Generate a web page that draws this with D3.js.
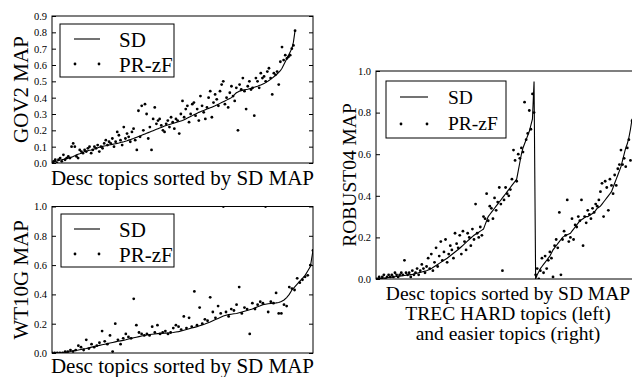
<!DOCTYPE html>
<html>
<head>
<meta charset="utf-8">
<script src="https://cdn.jsdelivr.net/npm/d3@7"></script>
<style>
  body { margin: 0; background: #fff; }
  svg { display: block; font-family: "Liberation Serif", "Times New Roman", serif; }
</style>
</head>
<body>
<div id="chart"></div>
<script>
// GOV2: 150 desc topics, sorted by SD MAP
const gov2SD = [
  0.00,0.005,0.01,0.012,0.015,0.018,0.02,0.022,0.025,0.028,
  0.03,0.033,0.036,0.04,0.045,0.05,0.053,0.056,0.06,0.065,
  0.07,0.072,0.075,0.078,0.08,0.083,0.086,0.09,0.093,0.097,
  0.10,0.102,0.104,0.106,0.108,0.11,0.112,0.114,0.116,0.118,
  0.12,0.122,0.125,0.128,0.13,0.133,0.136,0.14,0.143,0.147,
  0.15,0.154,0.158,0.162,0.166,0.17,0.174,0.178,0.182,0.186,
  0.19,0.194,0.198,0.202,0.206,0.21,0.214,0.218,0.222,0.226,
  0.23,0.233,0.236,0.239,0.242,0.245,0.248,0.251,0.254,0.257,
  0.26,0.265,0.27,0.275,0.28,0.285,0.29,0.295,0.30,0.305,
  0.31,0.314,0.318,0.322,0.326,0.33,0.334,0.338,0.342,0.346,
  0.35,0.355,0.36,0.365,0.37,0.375,0.38,0.385,0.39,0.395,
  0.40,0.41,0.42,0.43,0.435,0.44,0.443,0.446,0.448,0.45,
  0.452,0.455,0.458,0.461,0.464,0.467,0.47,0.474,0.478,0.482,
  0.486,0.492,0.498,0.505,0.512,0.52,0.528,0.536,0.545,0.555,
  0.565,0.58,0.60,0.62,0.64,0.66,0.68,0.70,0.74,0.81
];
const gov2PR = [
  0.00,0.01,0.02,0.00,0.02,0.03,0.01,0.05,0.02,0.03,
  0.04,0.03,0.10,0.12,0.10,0.04,0.03,0.08,0.07,0.06,
  0.08,0.07,0.09,0.10,0.06,0.08,0.10,0.09,0.11,0.07,
  0.10,0.09,0.12,0.14,0.11,0.13,0.12,0.15,0.10,0.13,
  0.19,0.17,0.14,0.11,0.22,0.15,0.18,0.16,0.13,0.19,
  0.21,0.14,0.08,0.32,0.16,0.35,0.20,0.36,0.30,0.15,
  0.22,0.08,0.27,0.34,0.24,0.26,0.27,0.23,0.20,0.19,
  0.24,0.26,0.22,0.28,0.25,0.21,0.27,0.26,0.18,0.30,
  0.38,0.28,0.33,0.35,0.25,0.30,0.36,0.37,0.29,0.33,
  0.26,0.41,0.35,0.31,0.27,0.34,0.40,0.44,0.28,0.37,
  0.42,0.39,0.35,0.44,0.48,0.50,0.36,0.40,0.34,0.43,
  0.47,0.41,0.38,0.46,0.20,0.48,0.45,0.52,0.44,0.33,
  0.47,0.50,0.45,0.46,0.29,0.52,0.50,0.46,0.55,0.52,
  0.53,0.50,0.56,0.58,0.52,0.42,0.55,0.54,0.56,0.48,
  0.62,0.71,0.63,0.66,0.64,0.65,0.66,0.70,0.72,0.81
];

// WT10G: 100 desc topics
const wt10gSD = [
  0.0,0.0,0.0,0.0,0.001,0.003,0.006,0.01,0.015,0.018,
  0.02,0.024,0.028,0.031,0.035,0.04,0.044,0.048,0.052,0.056,
  0.06,0.064,0.068,0.072,0.076,0.08,0.083,0.086,0.09,0.095,
  0.10,0.104,0.108,0.112,0.116,0.12,0.123,0.126,0.128,0.13,
  0.132,0.134,0.135,0.136,0.137,0.138,0.14,0.143,0.146,0.15,
  0.155,0.16,0.165,0.17,0.175,0.18,0.186,0.192,0.198,0.205,
  0.212,0.22,0.228,0.236,0.244,0.252,0.258,0.262,0.265,0.268,
  0.27,0.275,0.28,0.285,0.29,0.295,0.30,0.308,0.315,0.322,
  0.33,0.333,0.336,0.338,0.34,0.342,0.345,0.352,0.362,0.378,
  0.40,0.43,0.45,0.47,0.49,0.51,0.53,0.56,0.59,0.70
];
const wt10gPR = [
  0.0,0.0,0.0,0.0,0.0,0.01,0.01,0.02,0.01,0.02,
  0.05,0.04,0.02,0.09,0.03,0.06,0.04,0.05,0.07,0.15,
  0.08,0.06,0.12,0.01,0.20,0.09,0.06,0.10,0.13,0.11,
  0.10,0.37,0.19,0.14,0.13,0.12,0.13,0.12,0.18,0.14,
  0.19,0.13,0.14,0.15,0.13,0.14,0.17,0.19,0.18,0.16,
  0.25,0.17,0.24,0.18,0.42,0.19,0.31,0.20,0.23,0.22,
  0.38,0.28,0.24,0.32,0.27,1.0,0.28,0.25,0.30,0.29,
  0.33,0.45,0.27,0.31,0.30,0.13,0.34,0.30,0.33,0.35,
  0.34,1.0,0.28,0.35,0.34,0.41,0.27,0.27,0.33,0.32,
  0.45,0.44,0.43,0.51,0.48,0.50,0.52,0.53,0.60,0.70
];

// ROBUST04: TREC HARD topics (left), then easier topics (right)
const robustHardSD = [
  0.0,0.0,0.001,0.002,0.003,0.004,0.005,0.006,0.007,0.008,
  0.009,0.01,0.011,0.012,0.013,0.014,0.015,0.016,0.017,0.018,
  0.019,0.02,0.021,0.022,0.024,0.026,0.028,0.03,0.032,0.034,
  0.036,0.038,0.04,0.043,0.046,0.05,0.055,0.06,0.065,0.07,
  0.075,0.08,0.085,0.09,0.095,0.10,0.106,0.112,0.118,0.124,
  0.13,0.136,0.142,0.148,0.155,0.162,0.169,0.176,0.183,0.19,
  0.197,0.204,0.21,0.215,0.22,0.225,0.23,0.235,0.24,0.26,
  0.28,0.30,0.31,0.32,0.33,0.34,0.35,0.36,0.37,0.38,
  0.39,0.40,0.41,0.42,0.43,0.44,0.45,0.46,0.47,0.48,
  0.52,0.56,0.60,0.63,0.65,0.67,0.69,0.71,0.74,0.77,
  0.95
];
const robustHardPR = [
  0.0,0.0,0.01,0.0,0.01,0.02,0.0,0.01,0.02,0.01,
  0.02,0.01,0.03,0.02,0.01,0.02,0.03,0.02,0.09,0.03,
  0.02,0.03,0.01,0.04,0.02,0.03,0.05,0.02,0.04,0.07,
  0.05,0.03,0.06,0.10,0.05,0.12,0.04,0.08,0.15,0.06,
  0.11,0.18,0.09,0.13,0.19,0.08,0.12,0.16,0.14,0.10,
  0.22,0.17,0.15,0.21,0.12,0.23,0.18,0.14,0.22,0.20,
  0.16,0.24,0.19,0.36,0.22,0.20,0.25,0.21,0.30,0.29,
  0.41,0.28,0.35,0.34,0.29,0.39,0.33,0.37,0.44,0.36,
  0.04,0.38,0.44,0.41,0.40,0.43,0.48,0.62,0.57,0.47,
  0.60,0.58,0.63,0.61,0.85,0.67,0.70,0.81,0.72,0.89,
  0.80
];
const robustEasySD = [
  0.0,0.02,0.035,0.05,0.06,0.07,0.08,0.09,0.10,0.11,
  0.125,0.14,0.15,0.16,0.17,0.18,0.19,0.20,0.205,0.21,
  0.213,0.216,0.22,0.23,0.24,0.25,0.26,0.27,0.28,0.285,
  0.29,0.295,0.30,0.30,0.305,0.31,0.315,0.32,0.33,0.34,
  0.345,0.35,0.36,0.37,0.38,0.39,0.40,0.41,0.42,0.44,
  0.46,0.48,0.50,0.52,0.54,0.57,0.60,0.63,0.65,0.68,
  0.72,0.77
];
const robustEasyPR = [
  0.02,0.05,0.0,0.04,0.10,0.03,0.11,0.05,0.09,0.13,
  0.10,0.01,0.16,0.19,0.15,0.32,0.02,0.19,0.23,0.21,
  0.38,0.18,0.20,0.29,0.19,0.26,0.25,0.30,0.28,0.38,
  0.16,0.30,0.27,0.33,0.31,0.29,0.34,0.32,0.36,0.35,
  0.38,0.42,0.46,0.30,0.47,0.44,0.33,0.48,0.45,0.41,
  0.50,0.45,0.53,0.55,0.62,0.55,0.58,0.54,0.63,0.67,
  0.57,0.76
];

const xLabel = "Desc topics sorted by SD MAP";
const legendNames = ["SD", "PR-zF"];

const W = 632, H = 377;
const svg = d3.select("#chart").append("svg")
  .attr("width", W)
  .attr("height", H);

function drawPanel(p) {
  const x = d3.scaleLinear().domain(p.xDomain).range([p.left, p.right]);
  const y = d3.scaleLinear().domain([0, p.yMax]).range([p.bottom, p.top]);
  const g = svg.append("g");

  g.append("clipPath").attr("id", "clip-" + p.id)
    .append("rect")
    .attr("x", p.left).attr("y", p.top)
    .attr("width", p.right - p.left).attr("height", p.bottom - p.top);

  const plot = g.append("g").attr("clip-path", `url(#clip-${p.id})`);

  const line = d3.line()
    .x((d, i) => x(i))
    .y(d => y(d));

  plot.append("path")
    .datum(p.sd)
    .attr("fill", "none")
    .attr("stroke", "#000")
    .attr("stroke-width", 1.1)
    .attr("d", line);

  plot.selectAll("circle")
    .data(p.pr)
    .join("circle")
    .attr("cx", (d, i) => x(i))
    .attr("cy", d => y(d))
    .attr("r", 1.4)
    .attr("fill", "#000");

  // frame
  g.append("rect")
    .attr("x", p.left).attr("y", p.top)
    .attr("width", p.right - p.left).attr("height", p.bottom - p.top)
    .attr("fill", "none")
    .attr("stroke", "#000")
    .attr("stroke-width", 1);

  // y ticks, inward on both sides
  const ticks = d3.range(0, p.yMax + 1e-9, p.yStep);
  const left = g.append("g")
    .attr("transform", `translate(${p.left},0)`)
    .call(d3.axisLeft(y).tickValues(ticks).tickFormat(d3.format(".1f"))
      .tickSizeInner(-4).tickSizeOuter(0).tickPadding(5));
  left.select(".domain").remove();
  left.selectAll("text")
    .attr("font-family", "Liberation Serif, Times New Roman, serif")
    .attr("font-size", 10.5)
    .attr("fill", "#000");

  const right = g.append("g")
    .attr("transform", `translate(${p.right},0)`)
    .call(d3.axisRight(y).tickValues(ticks).tickFormat("")
      .tickSizeInner(-4).tickSizeOuter(0));
  right.select(".domain").remove();

  // axis titles
  g.append("text")
    .attr("transform", `translate(${p.yLabelX},${(p.top + p.bottom) / 2}) rotate(-90)`)
    .attr("text-anchor", "middle")
    .attr("font-size", p.fontSize)
    .text(p.yLabel);

  p.xLabels.forEach((t, k) => {
    g.append("text")
      .attr("x", p.xLabelX)
      .attr("y", p.xLabelY + k * 20)
      .attr("text-anchor", "middle")
      .attr("font-size", p.fontSize)
      .text(t);
  });

  // legend
  const L = p.legend;
  const lg = g.append("g");
  lg.append("rect")
    .attr("x", L.x).attr("y", L.y).attr("width", L.w).attr("height", L.h)
    .attr("fill", "#fff").attr("stroke", "#000").attr("stroke-width", 1);
  lg.append("line")
    .attr("x1", L.x1).attr("x2", L.x2).attr("y1", L.lineY).attr("y2", L.lineY)
    .attr("stroke", "#000").attr("stroke-width", 1.1);
  lg.selectAll("circle")
    .data([L.x1 + 1, L.x2 - 1])
    .join("circle")
    .attr("cx", d => d).attr("cy", L.dotY).attr("r", 1.4).attr("fill", "#000");
  lg.selectAll("text")
    .data(legendNames)
    .join("text")
    .attr("x", L.textX)
    .attr("y", (d, i) => i === 0 ? L.sdBase : L.prBase)
    .attr("font-size", L.fontSize)
    .text(d => d);
}

drawPanel({
  id: "gov2", left: 52, right: 313, top: 16, bottom: 163,
  xDomain: [0, 160], yMax: 0.9, yStep: 0.1,
  sd: gov2SD, pr: gov2PR,
  yLabel: "GOV2 MAP", yLabelX: 28, fontSize: 21,
  xLabels: [xLabel], xLabelX: 182.5, xLabelY: 185,
  legend: { x: 60, y: 24, w: 114, h: 53, x1: 74, x2: 100, lineY: 39, dotY: 64,
            textX: 119, sdBase: 47, prBase: 72, fontSize: 21 }
});

drawPanel({
  id: "wt10g", left: 52, right: 313, top: 206.5, bottom: 353,
  xDomain: [0, 99], yMax: 1.0, yStep: 0.2,
  sd: wt10gSD, pr: wt10gPR,
  yLabel: "WT10G MAP", yLabelX: 28, fontSize: 21,
  xLabels: [xLabel], xLabelX: 182.5, xLabelY: 373,
  legend: { x: 61, y: 214, w: 113, h: 53, x1: 74, x2: 100, lineY: 229, dotY: 254,
            textX: 119, sdBase: 237, prBase: 262, fontSize: 21 }
});

drawPanel({
  id: "robust", left: 376, right: 642, top: 71, bottom: 279,
  xDomain: [0, 168.3], yMax: 1.0, yStep: 0.2,
  sd: robustHardSD.concat(robustEasySD), pr: robustHardPR.concat(robustEasyPR),
  yLabel: "ROBUST04 MAP", yLabelX: 356, fontSize: 19.5,
  xLabels: [xLabel, "TREC HARD topics (left)", "and easier topics (right)"],
  xLabelX: 508, xLabelY: 300,
  legend: { x: 386, y: 81, w: 120, h: 57, x1: 400, x2: 428, lineY: 97, dotY: 124,
            textX: 448, sdBase: 104, prBase: 130, fontSize: 19.5 }
});
</script>
</body>
</html>
